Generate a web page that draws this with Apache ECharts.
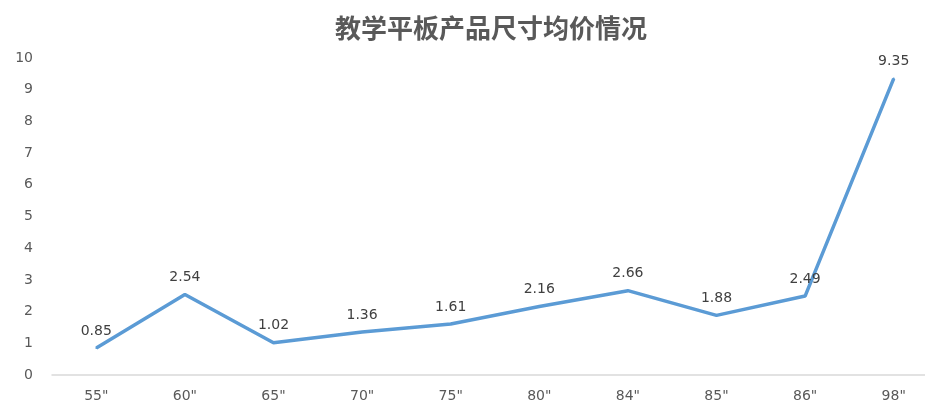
<!DOCTYPE html>
<html><head><meta charset="utf-8">
<script src="https://cdn.jsdelivr.net/npm/echarts@6/dist/echarts.min.js"></script>
<style>html,body{margin:0;padding:0;background:#fff;overflow:hidden;width:925px;height:401px}#c{width:950px;height:401px}</style>
</head><body><div id="c"></div>
<script>
const titleText = '教学平板产品尺寸均价情况';
const categories = ['55"', '60"', '65"', '70"', '75"', '80"', '84"', '85"', '86"', '98"'];
const prices = [0.85, 2.54, 1.02, 1.36, 1.61, 2.16, 2.66, 1.88, 2.49, 9.35];
const yTicks = { min: 0, max: 10, interval: 1 };

const chart = echarts.init(document.getElementById('c'), null, { renderer: 'canvas' });
chart.setOption({
  animation: false,
  title: {
    text: titleText, left: 486, top: 10, textAlign: 'center',
    textStyle: { fontSize: 26, fontWeight: 'bold', color: '#595959', fontFamily: 'Noto Sans CJK SC' }
  },
  grid: { left: 52, top: 58, width: 886, height: 317, containLabel: false, outerBoundsMode: 'none' },
  xAxis: {
    type: 'category', data: categories, boundaryGap: true,
    axisLine: { lineStyle: { color: '#d9d9d9', width: 1.5 } },
    axisTick: { show: false },
    axisLabel: { color: '#595959', fontSize: 14, margin: 14, fontFamily: 'DejaVu Sans' }
  },
  yAxis: {
    type: 'value', min: yTicks.min, max: yTicks.max, interval: yTicks.interval,
    axisLine: { show: false }, axisTick: { show: false }, splitLine: { show: false },
    axisLabel: { color: '#595959', fontSize: 14, margin: 19, fontFamily: 'DejaVu Sans' }
  },
  series: [{
    type: 'line', data: prices, showSymbol: true, symbol: 'circle', symbolSize: 2,
    lineStyle: { color: '#5B9BD5', width: 3.5 },
    itemStyle: { color: '#5B9BD5' },
    label: { show: true, position: 'top', distance: 9, color: '#404040', fontSize: 14, fontFamily: 'DejaVu Sans',
      formatter: p => p.value.toFixed(2) }
  }]
});
</script></body></html>
